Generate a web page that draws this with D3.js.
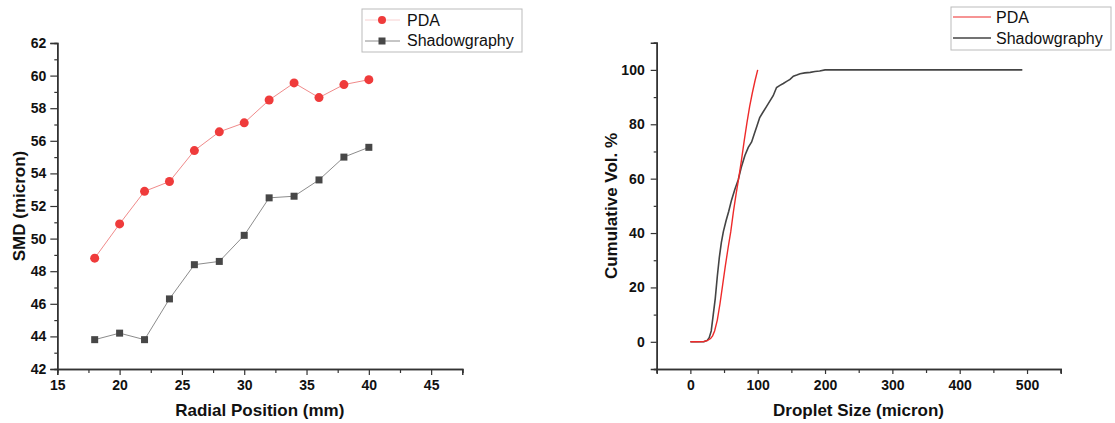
<!DOCTYPE html>
<html>
<head>
<meta charset="utf-8">
<script src="https://cdn.jsdelivr.net/npm/d3@7"></script>
<style>
  body { margin: 0; background: #fff; }
  svg { font-family: Arial, "Liberation Sans", sans-serif; }
  .tick text { font-weight: bold; font-size: 14px; fill: #111; }
</style>
</head>
<body>
<svg id="chart" width="1115" height="423"></svg>
<script>
// left panel: SMD vs radial position
var radialPos = [18, 20, 22, 24, 26, 28, 30, 32, 34, 36, 38, 40];
var pdaSMD = [48.8, 50.9, 52.9, 53.5, 55.4, 56.55, 57.1, 58.5, 59.55, 58.65, 59.45, 59.75];
var shadowSMD = [43.8, 44.2, 43.8, 46.3, 48.4, 48.6, 50.2, 52.5, 52.6, 53.6, 55.0, 55.6];
var leftXTicks = [15, 20, 25, 30, 35, 40, 45];
var leftYTicks = [42, 44, 46, 48, 50, 52, 54, 56, 58, 60, 62];

// right panel: cumulative volume curves
var pdaSize = [0, 10, 20, 25, 30, 33, 36, 40, 44, 48, 52, 56, 60, 64, 68, 72, 76, 80, 84, 88, 92, 96, 100];
var pdaCum = [0, 0, 0.1, 0.4, 1.2, 2.2, 4, 8, 14, 21, 28, 34.5, 40.5, 48, 54.5, 60.5, 67, 74, 80.5, 86.5, 91.5, 96, 100];
var shadowSize = [0, 10, 20, 25, 28, 31, 34, 37, 40, 43, 46, 49, 53, 57, 61, 66, 71, 76, 81, 86, 91, 95, 99, 103, 108, 113, 118, 123, 128, 133, 138, 143, 148, 153, 158, 163, 170, 178, 185, 192, 200, 250, 300, 400, 493];
var shadowCum = [0, 0, 0, 0.5, 1.5, 4, 10, 16, 24, 31, 36.5, 40.5, 44.5, 48, 52, 56, 59.5, 64.5, 68.5, 71.5, 73.5, 76.5, 79.5, 82.5, 84.5, 86.5, 88.5, 90.5, 93.5, 94.3, 95, 95.8, 96.5, 97.7, 98.1, 98.6, 98.9, 99.1, 99.4, 99.6, 100, 100, 100, 100, 100];
var rightXTicks = [0, 100, 200, 300, 400, 500];
var rightYTicks = [0, 20, 40, 60, 80, 100];

var svg = d3.select("#chart");

function styleAxis(g) {
    g.select(".domain").attr("stroke", "#333").attr("stroke-width", 1.5);
    g.selectAll(".tick line").attr("stroke", "#333").attr("stroke-width", 1.2);
}

// ---------- left chart ----------
var xL = d3.scaleLinear().domain([15, 47.5]).range([57.3, 462.3]);
var yL = d3.scaleLinear().domain([42, 62]).range([369, 43]);

var gL = svg.append("g");

gL.append("g").attr("transform", "translate(0,369)")
    .call(d3.axisBottom(xL).tickValues(d3.range(17.5, 48, 5)).tickSize(4).tickFormat(""))
    .call(styleAxis);
gL.append("g").attr("transform", "translate(0,369)")
    .call(d3.axisBottom(xL).tickValues(leftXTicks).tickSize(6).tickPadding(5))
    .call(styleAxis);
gL.append("g").attr("transform", "translate(57.3,0)")
    .call(d3.axisLeft(yL).tickValues(d3.range(43, 62, 2)).tickSize(3).tickFormat(""))
    .call(styleAxis);
gL.append("g").attr("transform", "translate(57.3,0)")
    .call(d3.axisLeft(yL).tickValues(leftYTicks).tickSize(7).tickPadding(4))
    .call(styleAxis);

gL.append("text").attr("x", 259.8).attr("y", 416).attr("text-anchor", "middle")
    .attr("font-weight", "bold").attr("font-size", 17).attr("fill", "#111")
    .text("Radial Position (mm)");
gL.append("text").attr("transform", "translate(25,206) rotate(-90)").attr("text-anchor", "middle")
    .attr("font-weight", "bold").attr("font-size", 17).attr("fill", "#111")
    .text("SMD (micron)");

var lineL = d3.line().x(function(d) { return xL(d[0]); }).y(function(d) { return yL(d[1]); });
var pdaPts = radialPos.map(function(r, i) { return [r, pdaSMD[i]]; });
var shadowPts = radialPos.map(function(r, i) { return [r, shadowSMD[i]]; });

gL.append("path").attr("d", lineL(shadowPts)).attr("fill", "none").attr("stroke", "#8c8c8c").attr("stroke-width", 1);
gL.append("path").attr("d", lineL(pdaPts)).attr("fill", "none").attr("stroke", "#f08a8a").attr("stroke-width", 1);

gL.selectAll(".sq").data(shadowPts).enter().append("rect")
    .attr("x", function(d) { return xL(d[0]) - 3.5; })
    .attr("y", function(d) { return yL(d[1]) - 3.5; })
    .attr("width", 7).attr("height", 7).attr("fill", "#474747");
gL.selectAll(".dot").data(pdaPts).enter().append("circle")
    .attr("cx", function(d) { return xL(d[0]); })
    .attr("cy", function(d) { return yL(d[1]); })
    .attr("r", 4.5).attr("fill", "#ef3b3b");

// left legend
var legL = svg.append("g");
legL.append("rect").attr("x", 362).attr("y", 9).attr("width", 160).attr("height", 43)
    .attr("fill", "#fff").attr("stroke", "#bbb").attr("stroke-width", 1);
legL.append("line").attr("x1", 365).attr("x2", 400).attr("y1", 20).attr("y2", 20)
    .attr("stroke", "#f8d0d0").attr("stroke-width", 1);
legL.append("circle").attr("cx", 382).attr("cy", 20).attr("r", 4).attr("fill", "#ef3b3b");
legL.append("line").attr("x1", 365).attr("x2", 400).attr("y1", 41).attr("y2", 41)
    .attr("stroke", "#8c8c8c").attr("stroke-width", 1);
legL.append("rect").attr("x", 378.5).attr("y", 37.5).attr("width", 7).attr("height", 7).attr("fill", "#474747");
legL.append("text").attr("x", 407).attr("y", 26).attr("font-size", 16).attr("fill", "#111").text("PDA");
legL.append("text").attr("x", 407).attr("y", 46).attr("font-size", 16).attr("fill", "#111").text("Shadowgraphy");

// ---------- right chart ----------
var xR = d3.scaleLinear().domain([-50, 550]).range([656.7, 1060.7]);
var yR = d3.scaleLinear().domain([-10, 110]).range([369, 42.7]);

var gR = svg.append("g");

gR.append("g").attr("transform", "translate(0,369)")
    .call(d3.axisBottom(xR).tickValues(d3.range(-50, 551, 100)).tickSize(4).tickFormat(""))
    .call(styleAxis);
gR.append("g").attr("transform", "translate(0,369)")
    .call(d3.axisBottom(xR).tickValues(rightXTicks).tickSize(5).tickPadding(6))
    .call(styleAxis);
gR.append("g").attr("transform", "translate(656.7,0)")
    .call(d3.axisLeft(yR).tickValues(d3.range(-10, 111, 20)).tickSize(3).tickFormat(""))
    .call(styleAxis);
gR.append("g").attr("transform", "translate(656.7,0)")
    .call(d3.axisLeft(yR).tickValues(rightYTicks).tickSize(6).tickPadding(6))
    .call(styleAxis);

gR.append("text").attr("x", 858.5).attr("y", 416).attr("text-anchor", "middle")
    .attr("font-weight", "bold").attr("font-size", 17).attr("fill", "#111")
    .text("Droplet Size (micron)");
gR.append("text").attr("transform", "translate(617,206) rotate(-90)").attr("text-anchor", "middle")
    .attr("font-weight", "bold").attr("font-size", 17).attr("fill", "#111")
    .text("Cumulative Vol. %");

var lineR = d3.line().x(function(d) { return xR(d[0]); }).y(function(d) { return yR(d[1]); });
var shadowCurve = shadowSize.map(function(s, i) { return [s, shadowCum[i]]; });
var pdaCurve = pdaSize.map(function(s, i) { return [s, pdaCum[i]]; });

gR.append("path").attr("d", lineR(shadowCurve)).attr("fill", "none").attr("stroke", "#444").attr("stroke-width", 1.6);
gR.append("path").attr("d", lineR(pdaCurve)).attr("fill", "none").attr("stroke", "#ee2a2a").attr("stroke-width", 1.4);

// right legend
var legR = svg.append("g");
legR.append("rect").attr("x", 951).attr("y", 7).attr("width", 160).attr("height", 43)
    .attr("fill", "#fff").attr("stroke", "#bbb").attr("stroke-width", 1);
legR.append("line").attr("x1", 953).attr("x2", 991).attr("y1", 17).attr("y2", 17)
    .attr("stroke", "#ee2a2a").attr("stroke-width", 1.2);
legR.append("line").attr("x1", 953).attr("x2", 991).attr("y1", 38).attr("y2", 38)
    .attr("stroke", "#444").attr("stroke-width", 1.6);
legR.append("text").attr("x", 996).attr("y", 23).attr("font-size", 16).attr("fill", "#111").text("PDA");
legR.append("text").attr("x", 996).attr("y", 44).attr("font-size", 16).attr("fill", "#111").text("Shadowgraphy");
</script>
</body>
</html>
